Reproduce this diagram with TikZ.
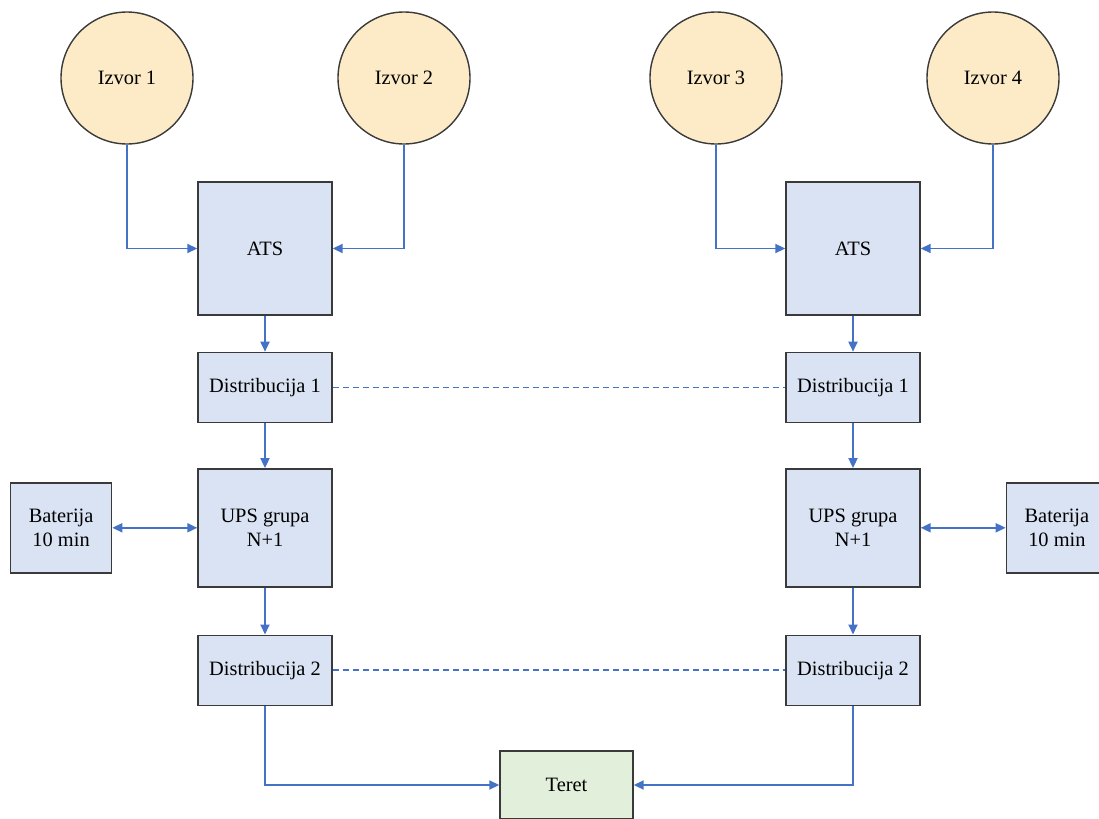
\documentclass[tikz,border=0pt]{standalone}
\usepackage{fontspec}
\setmainfont{Liberation Serif}
\usepackage{tikz}
\usetikzlibrary{arrows.meta,positioning}

\definecolor{boxfill}{HTML}{DAE3F3}
\definecolor{srcfill}{HTML}{FCEBC6}
\definecolor{loadfill}{HTML}{E2EFDA}
\definecolor{wire}{HTML}{4472C4}
\definecolor{edge}{HTML}{3A3A3A}

\begin{document}
\begin{tikzpicture}[
  font=\fontsize{10.2}{12}\selectfont,
  box/.style={draw=edge, line width=0.7pt, fill=boxfill, minimum width=67pt, align=center, inner sep=2pt},
  src/.style={draw=edge, line width=0.7pt, circle, fill=srcfill, minimum size=66pt, inner sep=0pt},
  tip/.style={-{Triangle[length=5pt, width=4.5pt]}},
  arr/.style={tip, wire, line width=0.9pt},
  link/.style={wire, line width=0.9pt, dash pattern=on 3pt off 2pt}
]
  \useasboundingbox (0,0) rectangle (549.5pt,-409.5pt);

  % izvori
  \node[src] (izv1) at (63.5pt,-39pt) {Izvor 1};
  \node[src] (izv2) at (202pt,-39pt) {Izvor 2};
  \node[src] (izv3) at (358pt,-39pt) {Izvor 3};
  \node[src] (izv4) at (496.5pt,-39pt) {Izvor 4};

  % lijeva grana
  \node[box, minimum height=66.5pt] (atsA) at (132.5pt,-124.25pt) {ATS};
  \node[box, minimum height=35pt, below=18pt of atsA] (distA1) {Distribucija 1};
  \node[box, minimum height=59pt, below=22.5pt of distA1] (upsA) {UPS grupa\\N+1};
  \node[box, minimum height=35pt, below=23.5pt of upsA] (distA2) {Distribucija 2};
  \node[box, minimum width=50.5pt, minimum height=45pt, left=42.5pt of upsA] (batA) {Baterija\\10 min};

  % desna grana
  \node[box, minimum height=66.5pt] (atsB) at (426.5pt,-124.25pt) {ATS};
  \node[box, minimum height=35pt, below=18pt of atsB] (distB1) {Distribucija 1};
  \node[box, minimum height=59pt, below=22.5pt of distB1] (upsB) {UPS grupa\\N+1};
  \node[box, minimum height=35pt, below=23.5pt of upsB] (distB2) {Distribucija 2};
  \node[box, minimum width=50.5pt, minimum height=45pt, right=42.5pt of upsB] (batB) {Baterija\\10 min};

  \node[box, fill=loadfill, minimum width=66.5pt, minimum height=34pt] (teret) at (283.25pt,-392.5pt) {Teret};

  \draw[arr] (izv1) |- (atsA);
  \draw[arr] (izv2) |- (atsA);
  \draw[arr] (izv3) |- (atsB);
  \draw[arr] (izv4) |- (atsB);

  \draw[arr] (atsA) -- (distA1);
  \draw[arr] (distA1) -- (upsA);
  \draw[arr] (upsA) -- (distA2);
  \draw[arr] (atsB) -- (distB1);
  \draw[arr] (distB1) -- (upsB);
  \draw[arr] (upsB) -- (distB2);

  \draw[arr, {Triangle[length=5pt, width=4.5pt]}-{Triangle[length=5pt, width=4.5pt]}] (batA) -- (upsA);
  \draw[arr, {Triangle[length=5pt, width=4.5pt]}-{Triangle[length=5pt, width=4.5pt]}] (upsB) -- (batB);

  \draw[link] (distA1) -- (distB1);
  \draw[link] (distA2) -- (distB2);

  \draw[arr] (distA2) |- (teret);
  \draw[arr] (distB2) |- (teret);
\end{tikzpicture}
\end{document}
